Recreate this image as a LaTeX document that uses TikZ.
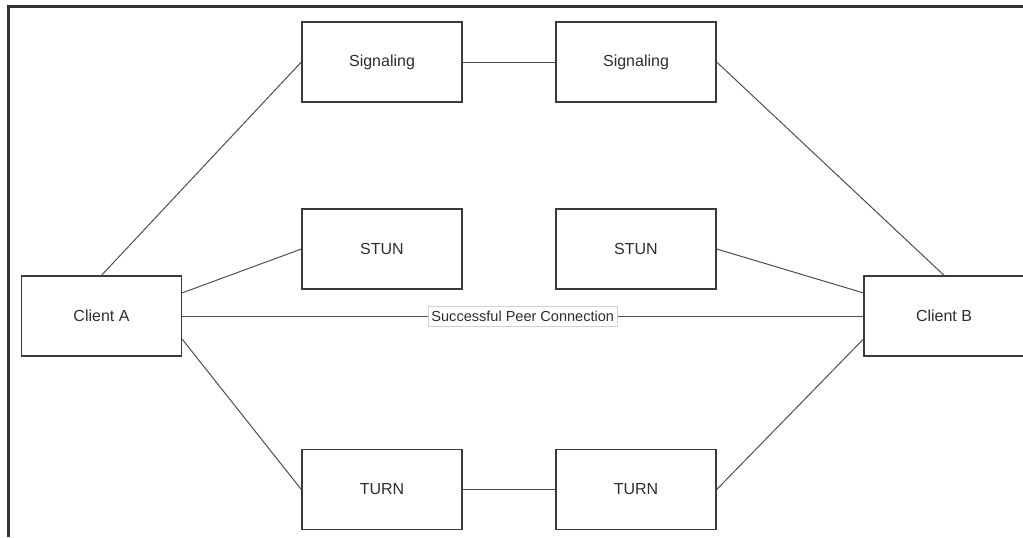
\documentclass[tikz,border=0pt]{standalone}
\usepackage{fontspec}
\setmainfont{Liberation Sans}
\definecolor{boxline}{HTML}{3A3A3A}
\definecolor{textgray}{HTML}{2E2E2E}
\tikzset{
  server/.style={draw=boxline,line width=1pt,fill=white,minimum width=120pt,
    minimum height=60pt,inner sep=0pt,text=textgray,font=\fontsize{12}{14}\selectfont},
  link/.style={draw=boxline!90,line width=.75pt},
  peerlabel/.style={draw=black!18,line width=.5pt,fill=white,inner xsep=2.4pt,
    inner ysep=0pt,minimum height=15pt,text=textgray,font=\fontsize{10.9}{12}\selectfont}
}
\begin{document}
\begin{tikzpicture}[x=.75pt,y=-.75pt]
	\useasboundingbox (0,0) rectangle (1023,537);

	% frame edge
	\draw [line width=1.6pt,black!80] (8.5,537) -- (8.5,6.5) -- (1030,6.5);

	\node (ca) [server] at (101.5,316) {Client A};
	\node (cb) [server] at (944,316) {Client B};

	\node (sigA) [server] at (382,62) {Signaling};
	\node (sigB) [server] at (636,62) {Signaling};

	\node (stunA) [server] at (382,249) {STUN};
	\node (stunB) [server] at (636,249) {STUN};

	\node (turnA) [server] at (382,489.5) {TURN};
	\node (turnB) [server] at (636,489.5) {TURN};

	% signaling path
	\draw [link] (ca.north) -- (sigA.west);
	\draw [link] (sigA.east) -- (sigB.west);
	\draw [link] (sigB.east) -- (cb.north);

	% stun
	\draw [link] (ca.16) -- (stunA.west);
	\draw [link] (stunB.east) -- (cb.164);

	% turn relay
	\draw [link] (ca.-16) -- (turnA.west);
	\draw [link] (turnA.east) -- (turnB.west);
	\draw [link] (turnB.east) -- (cb.196);

	\draw [link] (ca.east) -- (cb.west)
		node (peer) [peerlabel,midway] {Successful Peer Connection};

\end{tikzpicture}
\end{document}
